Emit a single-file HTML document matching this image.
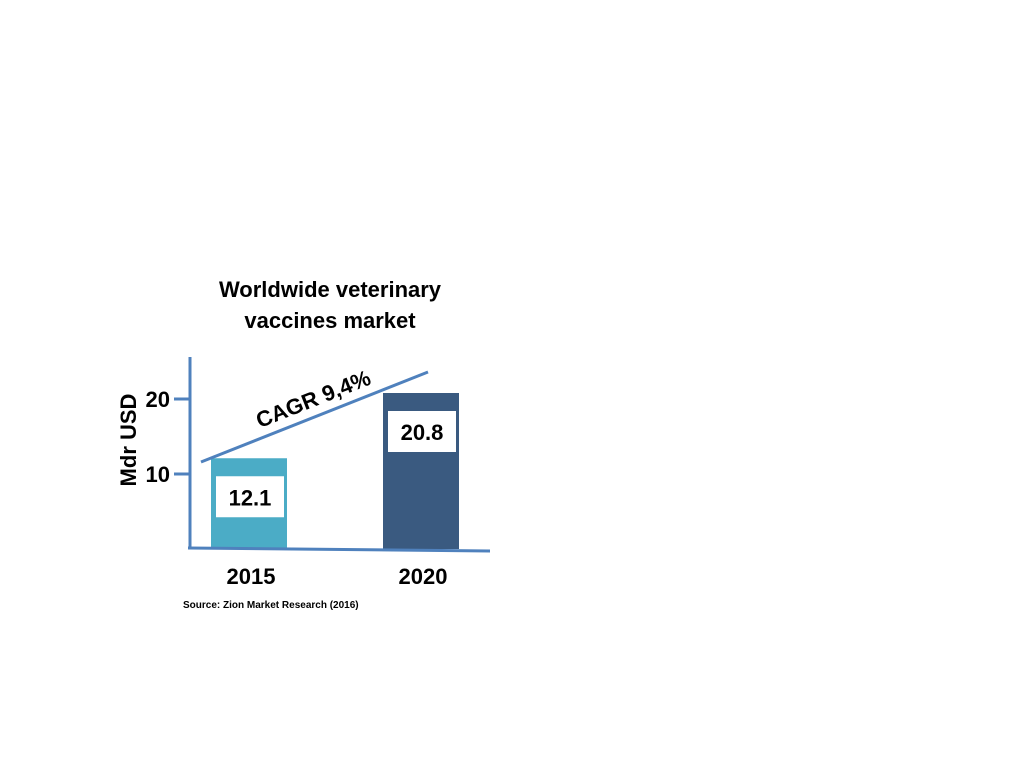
<!DOCTYPE html>
<html><head><meta charset="utf-8"><style>
html,body{margin:0;padding:0;background:#fff;width:1024px;height:768px;overflow:hidden}
svg{display:block;font-family:"Liberation Sans",sans-serif}
</style></head><body>
<svg id="chart" width="1024" height="768">
<text x="330" y="297" font-size="22" font-weight="bold" text-anchor="middle">Worldwide veterinary</text>
<text x="330" y="328" font-size="22" font-weight="bold" text-anchor="middle">vaccines market</text>
<text transform="translate(136,440) rotate(-90)" font-size="22" font-weight="bold" text-anchor="middle">Mdr USD</text>
<g id="ticks"></g>
<g id="bars"></g>
<line x1="190" y1="357" x2="190" y2="549" stroke="#4f81bd" stroke-width="3"/>
<line x1="188" y1="548" x2="490" y2="551" stroke="#4f81bd" stroke-width="3"/>
<line x1="201" y1="462" x2="428" y2="372" stroke="#4f81bd" stroke-width="3"/>
<text transform="translate(316,406) rotate(-21.6)" font-size="22" font-weight="bold" text-anchor="middle">CAGR 9,4%</text>
<text x="183" y="608" font-size="10" font-weight="bold">Source: Zion Market Research  (2016)</text>
</svg>
<script>
const categories=["2015","2020"];
const values=[12.1,20.8];
const valueLabels=["12.1","20.8"];
const tickValues=[10,20];
const tickLabels=["10","20"];
const colors=["#4bacc6","#3a5a80"];
const NS="http://www.w3.org/2000/svg";
const y=v=>549-v*7.5;
const x=i=>211+i*172;
const bw=76;
const bars=document.getElementById('bars');
const ticks=document.getElementById('ticks');
function mk(t,a,p){const e=document.createElementNS(NS,t);for(const k in a)e.setAttribute(k,a[k]);p.appendChild(e);return e;}
tickValues.forEach((v,i)=>{
  const l=mk('line',{x1:174,x2:190,y1:y(v),y2:y(v),stroke:'#4f81bd','stroke-width':3},ticks);
  
  
  const t=mk('text',{x:170,y:y(v)+8,'font-size':22,'font-weight':'bold','text-anchor':'end'},ticks);
  t.textContent=tickLabels[i];
  
  
});
categories.forEach((c,i)=>{
  const r=mk('rect',{x:x(i),y:y(values[i]),width:bw,height:549-y(values[i]),fill:colors[i]},bars);
  
  
  const by=y(values[i])+18;
  const b=mk('rect',{x:x(i)+5,y:by,width:68,height:41,fill:'#fff'},bars);
  
  
  const vt=mk('text',{x:x(i)+39,y:by+29,'font-size':22,'font-weight':'bold','text-anchor':'middle'},bars);
  vt.textContent=valueLabels[i];
  
  
  const ct=mk('text',{x:x(i)+40,y:584,'font-size':22,'font-weight':'bold','text-anchor':'middle'},bars);
  ct.textContent=c;
  
  
});
</script>
</body></html>
